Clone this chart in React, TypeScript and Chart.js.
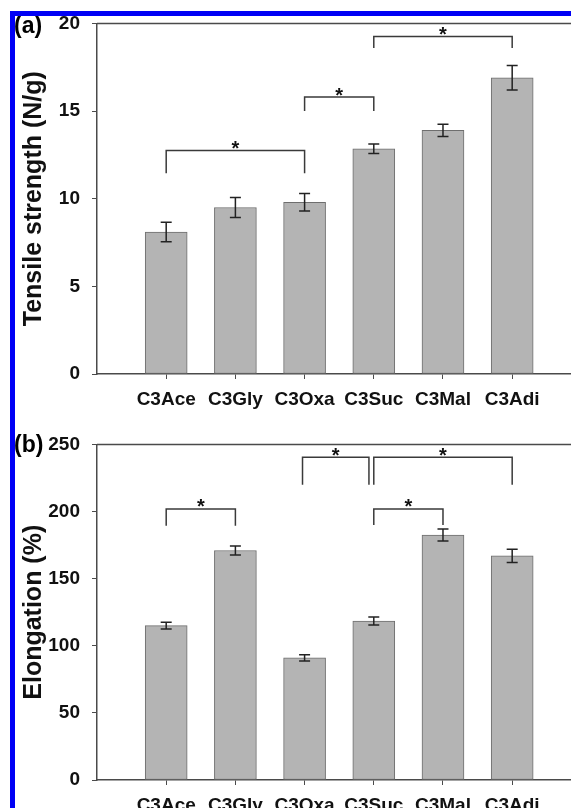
import React, { useEffect, useRef } from 'react';
import { Chart, registerables } from 'chart.js';

Chart.register(...registerables);

// ---- data ----
const categories = ['C3Ace', 'C3Gly', 'C3Oxa', 'C3Suc', 'C3Mal', 'C3Adi'];

const tensile = [8.1, 9.5, 9.8, 12.85, 13.9, 16.9];
const tensileErr = [0.55, 0.57, 0.5, 0.27, 0.35, 0.7];
const tensileTicks = [0, 5, 10, 15, 20];
// [from category pos, to category pos, bracket level, leg end level]
const tensileBrackets = [
  [1, 3, 12.75, 11.45],
  [3, 4, 15.8, 15.0],
  [4, 6, 19.25, 18.6],
];

const elongation = [115, 171, 91, 118.5, 182.5, 167];
const elongationErr = [2.5, 3.4, 2.3, 3, 4.5, 5];
const elongationTicks = [0, 50, 100, 150, 200, 250];
const elongationBrackets = [
  [1, 2, 202, 189.5],
  [2.97, 3.93, 240.5, 220],
  [4, 6, 240.5, 220],
  [4, 5, 202, 190],
];

const FONT = '"Liberation Sans", Arial, Helvetica, sans-serif';
const AXIS = '#4a4a4a';

function makePlugin(values: number[], errors: number[], brackets: number[][], label: string, labelY: number) {
  return {
    id: 'annot',
    afterDatasetsDraw(chart: any) {
      const { ctx, chartArea } = chart;
      const xs = chart.scales.x;
      const ys = chart.scales.y;
      ctx.save();
      // top frame line
      ctx.strokeStyle = AXIS;
      ctx.lineWidth = 1.5;
      ctx.beginPath();
      ctx.moveTo(chartArea.left, chartArea.top);
      ctx.lineTo(chartArea.right, chartArea.top);
      ctx.stroke();
      // error bars
      ctx.strokeStyle = '#222';
      ctx.lineWidth = 1.5;
      values.forEach((v, i) => {
        const px = xs.getPixelForValue(i + 1);
        const t = ys.getPixelForValue(v + errors[i]);
        const b = ys.getPixelForValue(v - errors[i]);
        ctx.beginPath();
        ctx.moveTo(px, t);
        ctx.lineTo(px, b);
        ctx.moveTo(px - 5.5, t);
        ctx.lineTo(px + 5.5, t);
        ctx.moveTo(px - 5.5, b);
        ctx.lineTo(px + 5.5, b);
        ctx.stroke();
      });
      // significance brackets
      ctx.strokeStyle = '#3a3a3a';
      ctx.lineWidth = 1.5;
      ctx.fillStyle = '#111';
      ctx.font = `bold 20px ${FONT}`;
      ctx.textAlign = 'center';
      ctx.textBaseline = 'middle';
      brackets.forEach(([a, b, lvl, end]) => {
        const x1 = xs.getPixelForValue(a);
        const x2 = xs.getPixelForValue(b);
        const yl = ys.getPixelForValue(lvl);
        const ye = ys.getPixelForValue(end);
        ctx.beginPath();
        ctx.moveTo(x1, ye);
        ctx.lineTo(x1, yl);
        ctx.lineTo(x2, yl);
        ctx.lineTo(x2, ye);
        ctx.stroke();
        ctx.fillText('*', (x1 + x2) / 2, yl - 1);
      });
      // panel label
      ctx.font = `bold 23px ${FONT}`;
      ctx.textAlign = 'left';
      ctx.fillStyle = '#000';
      ctx.fillText(label, 14, labelY);
      ctx.restore();
    },
  };
}

function makeConfig(values: number[], errors: number[], brackets: number[][], ticks: number[], title: string, label: string, padTop: number, labelY: number) {
  return {
    type: 'bar' as const,
    data: {
      datasets: [
        {
          data: values.map((v, i) => ({ x: i + 1, y: v })),
          backgroundColor: '#b4b4b4',
          borderColor: '#6e6e6e',
          borderWidth: 1,
          borderSkipped: false,
          barThickness: 42,
        },
      ],
    },
    options: {
      animation: false,
      responsive: false,
      devicePixelRatio: 1,
      layout: { padding: { top: padTop, right: 0, bottom: 0, left: 0 } },
      plugins: { legend: { display: false }, tooltip: { enabled: false } },
      scales: {
        x: {
          type: 'linear',
          min: 0,
          max: 6.85,
          offset: false,
          afterBuildTicks: (scale: any) => {
            scale.ticks = categories.map((_, i) => ({ value: i + 1 }));
          },
          afterFit: (scale: any) => {
            scale.height = 46;
          },
          grid: { offset: false, drawOnChartArea: false, drawTicks: true, tickLength: 5, color: AXIS, lineWidth: 1 },
          border: { display: true, color: AXIS, width: 1.5 },
          ticks: {
            autoSkip: false,
            maxRotation: 0,
            padding: 9,
            color: '#111',
            font: { family: FONT, size: 19, weight: 'bold' },
            callback: (v: number) => categories[v - 1] ?? '',
          },
        },
        y: {
          min: ticks[0],
          max: ticks[ticks.length - 1],
          afterBuildTicks: (scale: any) => {
            scale.ticks = ticks.map((t) => ({ value: t }));
          },
          afterFit: (scale: any) => {
            scale.width = 97;
          },
          grid: { drawOnChartArea: false, drawTicks: true, tickLength: 5, color: AXIS, lineWidth: 1 },
          border: { display: true, color: AXIS, width: 1.5 },
          ticks: {
            padding: 12,
            color: '#111',
            font: { family: FONT, size: 19, weight: 'bold' },
          },
          title: {
            display: true,
            text: title,
            color: '#111',
            font: { family: FONT, size: 25, weight: 'bold' },
            padding: { top: 19, bottom: 0 },
          },
        },
      },
    },
    plugins: [makePlugin(values, errors, brackets, label, labelY)],
  };
}

function Panel({ top, height, config }: { top: number; height: number; config: any }) {
  const ref = useRef<HTMLCanvasElement | null>(null);
  useEffect(() => {
    if (!ref.current) return;
    const chart = new Chart(ref.current, config);
    return () => chart.destroy();
  }, []);
  return (
    <canvas
      ref={ref}
      width={571}
      height={height}
      style={{ position: 'absolute', left: 0, top, width: 571, height, display: 'block' }}
    />
  );
}

export default function App() {
  const cfgA = makeConfig(tensile, tensileErr, tensileBrackets, tensileTicks, 'Tensile strength (N/g)', '(a)', 22.5, 27);
  const cfgB = makeConfig(elongation, elongationErr, elongationBrackets, elongationTicks, 'Elongation (%)', '(b)', 24.5, 26);
  return (
    <div
      style={{
        position: 'fixed',
        left: 0,
        top: 0,
        width: 571,
        height: 808,
        overflow: 'hidden',
        background: '#fff',
      }}
    >
      <Panel top={0} height={420} config={cfgA} />
      <Panel top={420} height={406} config={cfgB} />
      <div style={{ position: 'absolute', left: 10, top: 11, width: 561, height: 5, background: '#0000f5' }} />
      <div style={{ position: 'absolute', left: 10, top: 11, width: 5, height: 797, background: '#0000f5' }} />
    </div>
  );
}
